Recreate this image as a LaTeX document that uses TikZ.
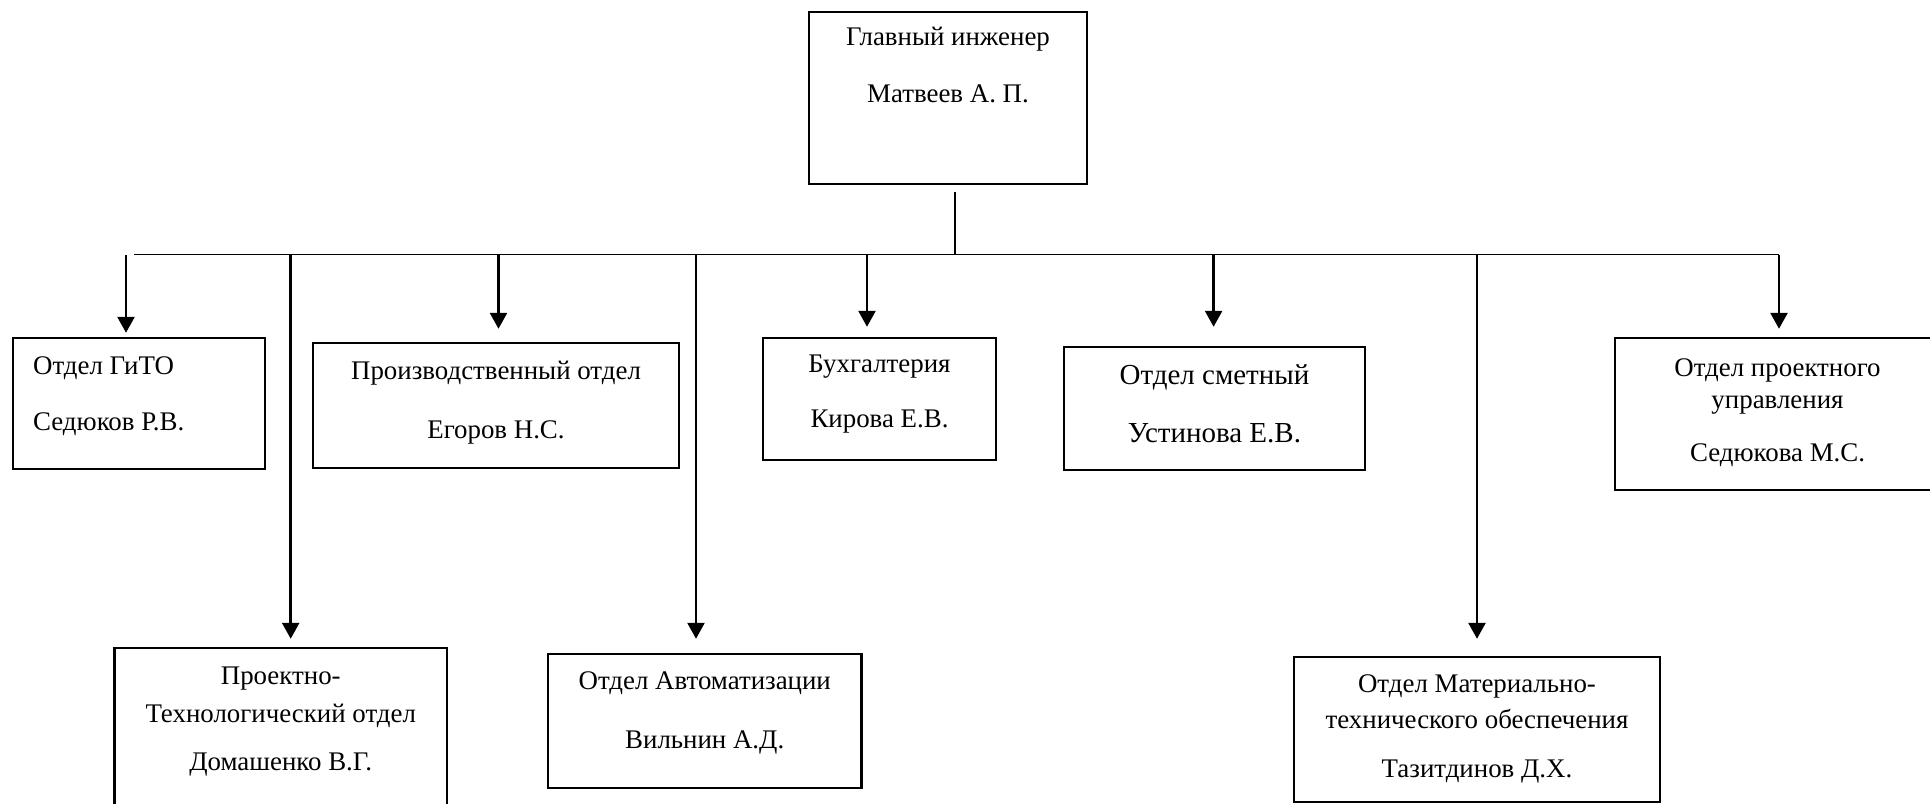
\documentclass[tikz,border=0pt]{standalone}
\usepackage{fontspec}
\setmainfont{Liberation Serif}
\usepackage{tikz}
\usetikzlibrary{arrows.meta,positioning,calc}

\tikzset{
  dept/.style={draw, line width=1.4pt, inner sep=0pt},
  link/.style={line width=0.7pt},
  feed/.style={line width=1.5pt, -{Triangle[length=3.2mm,width=3.4mm]}},
  txt/.style={inner sep=0pt, anchor=base, font=\fontsize{15.3}{18}\selectfont},
  bigtxt/.style={txt, font=\fontsize{16.5}{19}\selectfont}
}

\begin{document}
\begin{tikzpicture}[x=0.2mm, y=-0.2mm]
    \useasboundingbox (0,0) rectangle (1930,803);

    % Head of the structure
    \node[dept, minimum width=55.6mm, minimum height=34.4mm] (chief) at (948,98) {};
    \node[txt] (chiefA) at ($(chief.north)+(0,35)$) {Главный инженер};
    \node[txt] (chiefB) at ($(chief.north)+(0,92)$) {Матвеев А. П.};

    % Upper row of departments
    \node[dept, minimum width=50.4mm, minimum height=26.2mm] (gito) at (139,403.5) {};
    \node[txt, anchor=base west] (gitoA) at ($(gito.north west)+(21,38)$) {Отдел ГиТО};
    \node[txt, anchor=base west] (gitoB) at ($(gito.north west)+(21,94)$) {Седюков Р.В.};

    \node[dept, minimum width=73.2mm, minimum height=25mm] (prod) at (496,405.5) {};
    \node[txt] (prodA) at ($(prod.north)+(0,38)$) {Производственный отдел};
    \node[txt] (prodB) at ($(prod.north)+(0,97)$) {Егоров Н.С.};

    \node[dept, minimum width=46.6mm, minimum height=24.4mm] (buh) at (879.5,399) {};
    \node[txt] (buhA) at ($(buh.north)+(0,36)$) {Бухгалтерия};
    \node[txt] (buhB) at ($(buh.north)+(0,91)$) {Кирова Е.В.};

    \node[dept, minimum width=60.2mm, minimum height=24.6mm] (smet) at (1214.5,408.5) {};
    \node[bigtxt] (smetA) at ($(smet.north)+(0,39)$) {Отдел сметный};
    \node[bigtxt] (smetB) at ($(smet.north)+(0,97)$) {Устинова Е.В.};

    \node[dept, minimum width=65mm, minimum height=30.4mm] (proj) at (1777.5,414) {};
    \node[txt] (projA) at ($(proj.north)+(0,40)$) {Отдел проектного};
    \node[txt] (projB) at ($(proj.north)+(0,72)$) {управления};
    \node[txt] (projC) at ($(proj.north)+(0,125)$) {Седюкова М.С.};

    % Lower row of departments
    \node[dept, minimum width=66.5mm, minimum height=36.4mm] (tech) at (280.75,739) {};
    \node[txt] (techA) at ($(tech.north)+(0,38)$) {Проектно-};
    \node[txt] (techB) at ($(tech.north)+(0,76)$) {Технологический отдел};
    \node[txt] (techC) at ($(tech.north)+(0,124)$) {Домашенко В.Г.};

    \node[dept, minimum width=62.7mm, minimum height=26.8mm] (auto) at (704.75,721) {};
    \node[txt] (autoA) at ($(auto.north)+(0,37)$) {Отдел Автоматизации};
    \node[txt] (autoB) at ($(auto.north)+(0,96)$) {Вильнин А.Д.};

    \node[dept, minimum width=73.2mm, minimum height=29mm] (mto) at (1477,729.5) {};
    \node[txt] (mtoA) at ($(mto.north)+(0,37)$) {Отдел Материально-};
    \node[txt] (mtoB) at ($(mto.north)+(0,73)$) {технического обеспечения};
    \node[txt] (mtoC) at ($(mto.north)+(0,122)$) {Тазитдинов Д.Х.};

    % Bus line
    \coordinate (busL) at (134,254.5);
    \coordinate (busR) at (1779,254.5);
    \coordinate (stem) at (955,192);
    \draw[link] (busL) -- (busR);
    \draw[link] (stem) -- (stem |- busL);

    % Arrows to the departments
    \foreach \tx/\dst/\gap in {126/gito/4, 290.7/tech/8, 498.5/prod/13, 696/auto/14,
                               867/buh/10, 1213.6/smet/19, 1477/mto/17, 1779/proj/8}
    {
        \coordinate (tap) at (\tx,255);
        \draw[feed, shorten >=\gap*0.2mm] (tap) -- (tap |- \dst.north);
    }
\end{tikzpicture}
\end{document}
